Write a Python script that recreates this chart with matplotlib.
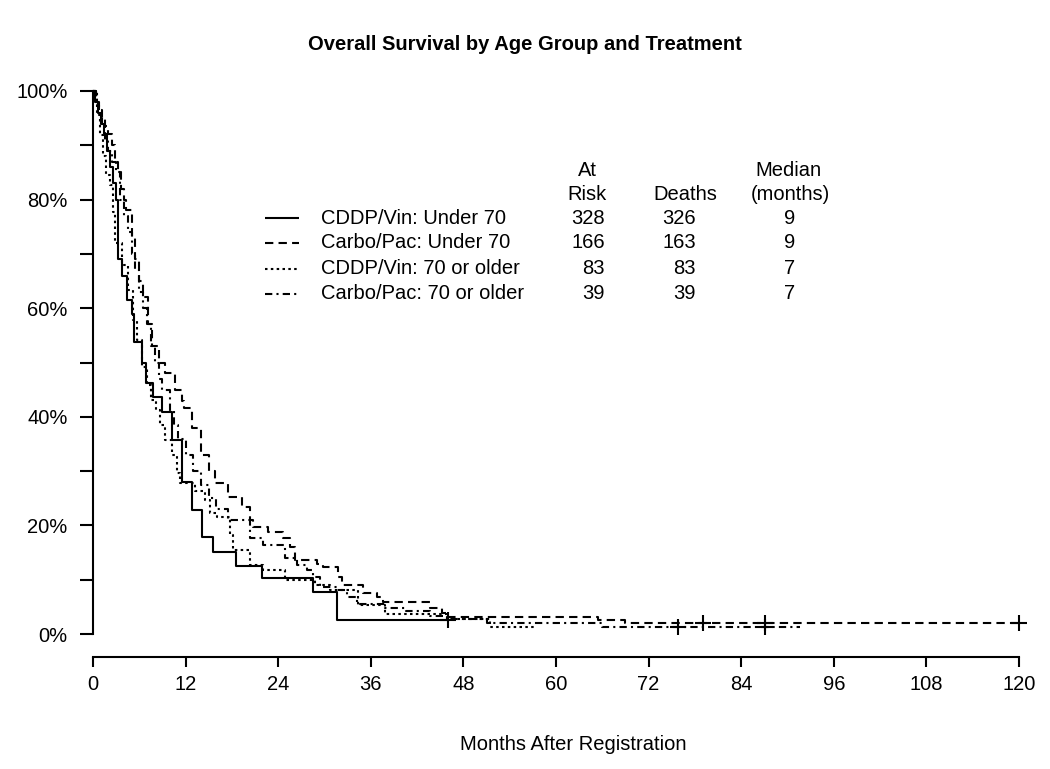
import numpy as np
import matplotlib
matplotlib.use("Agg")
import matplotlib.pyplot as plt
from matplotlib.lines import Line2D

plt.rcParams['font.family'] = ['Liberation Sans', 'DejaVu Sans']

# Kaplan-Meier step data (months, survival fraction)
cv_young_t = [0, 0.3, 0.7, 1.0, 1.4, 1.8, 2.2, 2.6, 3.0, 3.2, 3.8, 4.4, 5.1, 5.3, 6.4, 6.9,
              7.8, 8.9, 10.2, 11.5, 12.8, 14.1, 15.5, 18.5, 21.9, 28.5, 31.6, 46.0]
cv_young_s = [1.0, 0.98, 0.96, 0.94, 0.92, 0.89, 0.86, 0.83, 0.80, 0.69, 0.66, 0.615, 0.59, 0.538,
              0.50, 0.462, 0.436, 0.409, 0.357, 0.28, 0.228, 0.179, 0.151, 0.125, 0.103, 0.077,
              0.026, 0.026]

cp_young_t = [0, 0.4, 0.8, 1.2, 1.6, 2.0, 2.4, 2.8, 3.2, 3.6, 4.0, 4.3, 5.0, 5.5, 6.0, 6.5, 7.1,
              7.7, 8.5, 9.3, 10.6, 11.5, 11.8, 12.8, 14.0, 15.0, 15.8, 17.5, 19.3, 20.3, 20.7,
              22.7, 24.6, 25.5, 26.2, 29.0, 29.8, 31.7, 32.3, 35.0, 36.8, 37.6, 43.7, 45.2,
              45.9, 65.5, 69.0, 120.0]
cp_young_s = [1.0, 0.98, 0.965, 0.95, 0.935, 0.92, 0.90, 0.87, 0.85, 0.82, 0.80, 0.78, 0.73,
              0.69, 0.65, 0.62, 0.57, 0.53, 0.50, 0.48, 0.45, 0.43, 0.416, 0.38, 0.33, 0.30,
              0.278, 0.252, 0.234, 0.21, 0.197, 0.188, 0.177, 0.16, 0.136, 0.129, 0.123, 0.105,
              0.09, 0.076, 0.068, 0.059, 0.048, 0.039, 0.032, 0.026, 0.02, 0.02]

cv_old_t = [0, 0.5, 0.9, 1.3, 1.7, 2.2, 2.6, 2.85, 3.8, 4.5, 5.2, 5.7, 6.3, 7.0, 7.5, 8.2, 8.7,
            9.3, 10.2, 10.9, 11.3, 13.2, 14.5, 15.2, 16.1, 17.8, 18.1, 20.3, 22.0, 24.9, 28.8,
            30.7, 34.3, 37.8, 45.9, 51.4, 57.5]
cv_old_s = [1.0, 0.96, 0.919, 0.88, 0.845, 0.827, 0.777, 0.72, 0.68, 0.634, 0.578, 0.541, 0.492,
            0.459, 0.431, 0.413, 0.385, 0.357, 0.33, 0.297, 0.278, 0.263, 0.247, 0.223, 0.215,
            0.182, 0.155, 0.127, 0.118, 0.099, 0.09, 0.081, 0.053, 0.037, 0.028, 0.013, 0.013]

cp_old_t = [0, 0.4, 0.8, 1.2, 1.6, 2.0, 2.5, 3.0, 3.5, 4.0, 4.5, 5.0, 5.5, 6.0, 6.5, 7.0, 7.5,
            8.0, 8.5, 9.0, 10.0, 10.5, 11.0, 12.0, 13.0, 14.0, 15.0, 16.0, 17.5, 20.3, 22.0,
            24.9, 26.4, 27.7, 28.5, 29.4, 31.6, 32.9, 34.2, 37.8, 40.5, 43.7, 45.9, 51.0, 66.0,
            91.6]
cp_old_s = [1.0, 0.975, 0.955, 0.935, 0.91, 0.89, 0.87, 0.85, 0.80, 0.77, 0.74, 0.70, 0.67,
            0.63, 0.60, 0.57, 0.53, 0.50, 0.47, 0.45, 0.41, 0.385, 0.36, 0.33, 0.30, 0.275,
            0.25, 0.23, 0.21, 0.177, 0.164, 0.14, 0.127, 0.118, 0.105, 0.087, 0.081, 0.068,
            0.055, 0.048, 0.042, 0.033, 0.027, 0.02, 0.013, 0.013]

# censored observations
cv_young_cens = [46.0]
cp_young_cens = [79.0, 87.1, 120.0]
cv_old_cens = []
cp_old_cens = [75.8, 87.1]

labels = ["CDDP/Vin: Under 70", "Carbo/Pac: Under 70", "CDDP/Vin: 70 or older", "Carbo/Pac: 70 or older"]
at_risk = [328, 166, 83, 39]
deaths = [326, 163, 83, 39]
medians = [9, 9, 7, 7]

styles = [(0, ()), (0, (4, 2.5)), (0, (1.2, 1.6)), (0, (3.5, 2, 1, 2))]
lw = 1.5

W, H = 1050, 769
def fx(px):
    return px / W
def fy(py):
    return 1 - py / H

fig = plt.figure(figsize=(10.5, 7.69), dpi=100)
ax = fig.add_axes([fx(93), fy(634), (1019 - 93) / W, (634 - 91) / H])

curves = [(cv_young_t, cv_young_s, cv_young_cens),
          (cp_young_t, cp_young_s, cp_young_cens),
          (cv_old_t, cv_old_s, cv_old_cens),
          (cp_old_t, cp_old_s, cp_old_cens)]

for (t, s, cens), ls in zip(curves, styles):
    ax.plot(t, s, drawstyle='steps-post', color='black', lw=lw, linestyle=ls, clip_on=False)
    if cens:
        # censor marks sit on the curve value at that time
        idx = np.searchsorted(t, cens, side='right') - 1
        ax.plot(cens, np.array(s)[idx], linestyle='none', marker='+', ms=12, mew=1.5,
                color='black', clip_on=False)

ax.set_xlim(0, 120)
ax.set_ylim(0, 1)
for sp in ['top', 'right']:
    ax.spines[sp].set_visible(False)
ax.spines['left'].set_bounds(0, 1)
ax.spines['bottom'].set_bounds(0, 120)
ax.spines['bottom'].set_position(('outward', 16.6))
ax.spines['left'].set_linewidth(1.5)
ax.spines['bottom'].set_linewidth(1.5)

ax.set_xticks(np.arange(0, 121, 12))
ax.set_xticklabels([str(v) for v in range(0, 121, 12)])
yt = np.arange(0, 1.01, 0.1)
ax.set_yticks(yt)
ax.set_yticklabels([f"{int(round(v * 100))}%" if int(round(v * 10)) % 2 == 0 else "" for v in yt])
ax.tick_params(axis='y', length=9.4, width=1.5, pad=9, labelsize=14.5)
ax.tick_params(axis='x', length=7.2, width=1.5, pad=6, labelsize=14.5)

fig.text(fx(525), fy(45), "Overall Survival by Age Group and Treatment",
         ha='center', va='center', fontsize=14.5, fontweight='bold')
fig.text(fx(573), fy(745), "Months After Registration", ha='center', va='center', fontsize=14.5)

# legend table
fs = 14.5
fig.text(fx(587), fy(170), "At", ha='center', va='center', fontsize=fs)
fig.text(fx(587), fy(195), "Risk", ha='center', va='center', fontsize=fs)
fig.text(fx(685), fy(195), "Deaths", ha='center', va='center', fontsize=fs)
fig.text(fx(788), fy(170), "Median", ha='center', va='center', fontsize=fs)
fig.text(fx(790), fy(195), "(months)", ha='center', va='center', fontsize=fs)
rows_y = [218, 243, 269, 294]
for i, ry in enumerate(rows_y):
    fig.add_artist(Line2D([fx(265), fx(299)], [fy(ry), fy(ry)], color='black', lw=lw,
                          linestyle=styles[i]))
    fig.text(fx(321), fy(ry), labels[i], ha='left', va='center', fontsize=fs)
    fig.text(fx(605), fy(ry), str(at_risk[i]), ha='right', va='center', fontsize=fs)
    fig.text(fx(696), fy(ry), str(deaths[i]), ha='right', va='center', fontsize=fs)
    fig.text(fx(790), fy(ry), str(medians[i]), ha='center', va='center', fontsize=fs)

fig.savefig("out.png", dpi=100)
